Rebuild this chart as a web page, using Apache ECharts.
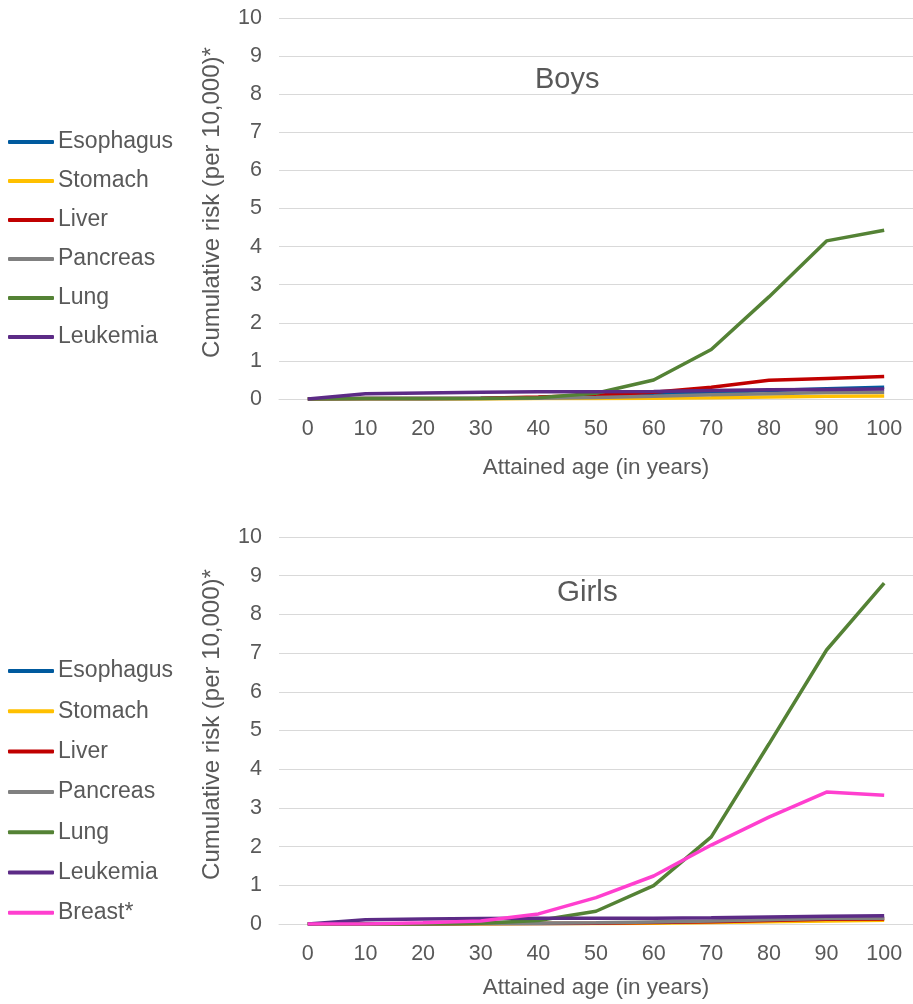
<!DOCTYPE html>
<html>
<head>
<meta charset="utf-8">
<script src="https://cdn.jsdelivr.net/npm/echarts@6/dist/echarts.min.js"></script>
<style>html,body{margin:0;padding:0;background:#fff;}#c{width:913px;height:1004px;}</style>
</head>
<body>
<div id="c"></div>
<script>
var ages = ['0','10','20','30','40','50','60','70','80','90','100'];
var yTicks = [0,1,2,3,4,5,6,7,8,9,10];

// Boys
var boysEsophagus = [0, 0.01, 0.01, 0.02, 0.04, 0.08, 0.12, 0.17, 0.22, 0.27, 0.31];
var boysStomach   = [0, 0.00, 0.00, 0.00, 0.01, 0.01, 0.02, 0.03, 0.05, 0.07, 0.08];
var boysLiver     = [0, 0.01, 0.01, 0.02, 0.05, 0.10, 0.18, 0.31, 0.49, 0.54, 0.59];
var boysPancreas  = [0, 0.00, 0.00, 0.01, 0.02, 0.04, 0.07, 0.11, 0.14, 0.17, 0.18];
var boysLung      = [0, 0.01, 0.01, 0.01, 0.03, 0.15, 0.50, 1.30, 2.68, 4.15, 4.43];
var boysLeukemia  = [0, 0.14, 0.16, 0.18, 0.19, 0.19, 0.20, 0.22, 0.24, 0.25, 0.26];

// Girls
var girlsEsophagus = [0, 0.00, 0.00, 0.01, 0.01, 0.02, 0.04, 0.06, 0.09, 0.12, 0.14];
var girlsStomach   = [0, 0.00, 0.00, 0.00, 0.01, 0.01, 0.02, 0.04, 0.06, 0.08, 0.10];
var girlsLiver     = [0, 0.00, 0.00, 0.01, 0.01, 0.02, 0.04, 0.06, 0.09, 0.12, 0.13];
var girlsPancreas  = [0, 0.00, 0.00, 0.01, 0.02, 0.03, 0.05, 0.08, 0.11, 0.14, 0.15];
var girlsLung      = [0, 0.00, 0.00, 0.02, 0.09, 0.33, 0.99, 2.25, 4.65, 7.08, 8.81];
var girlsLeukemia  = [0, 0.11, 0.13, 0.14, 0.15, 0.15, 0.15, 0.16, 0.18, 0.20, 0.21];
var girlsBreast    = [0, 0.00, 0.03, 0.08, 0.26, 0.68, 1.24, 2.04, 2.76, 3.41, 3.33];

var names = ['Esophagus','Stomach','Liver','Pancreas','Lung','Leukemia','Breast*'];
var colors = {
  'Esophagus':'#005A9E','Stomach':'#FFC000','Liver':'#C00000','Pancreas':'#808080',
  'Lung':'#548235','Leukemia':'#5C2B86','Breast*':'#FF3FCF'
};
var boysData = [boysEsophagus, boysStomach, boysLiver, boysPancreas, boysLung, boysLeukemia];
var girlsData = [girlsEsophagus, girlsStomach, girlsLiver, girlsPancreas, girlsLung, girlsLeukemia, girlsBreast];

var FONT = 'Liberation Sans, Arial, sans-serif';
var TXT = '#595959';

function xAxis(gi, gap) {
  return {
    type:'category', gridIndex:gi, data:ages, boundaryGap:true,
    name:'Attained age (in years)', nameLocation:'middle', nameGap:gap,
    nameTextStyle:{color:TXT, fontSize:22.5, fontFamily:FONT},
    axisLine:{lineStyle:{color:'#D9D9D9', width:1}},
    axisTick:{show:false},
    axisLabel:{color:TXT, fontSize:21.5, fontFamily:FONT, margin:19, interval:0}
  };
}
function yAxis(gi) {
  return {
    type:'value', gridIndex:gi, min:0, max:10, interval:1,
    name:'Cumulative risk (per 10,000)*', nameLocation:'middle', nameGap:55,
    nameTextStyle:{color:TXT, fontSize:24, fontFamily:FONT, padding:[0,0,0,12]},
    axisLine:{show:false}, axisTick:{show:false},
    splitLine:{lineStyle:{color:'#D9D9D9', width:1}},
    axisLabel:{color:TXT, fontSize:21.5, fontFamily:FONT, margin:17}
  };
}

var series = [];
boysData.forEach(function(d, i) {
  series.push({name:names[i], type:'line', xAxisIndex:0, yAxisIndex:0, data:d,
    symbol:'none', lineStyle:{width:3.5, color:colors[names[i]]}, itemStyle:{color:colors[names[i]]}});
});
girlsData.forEach(function(d, i) {
  series.push({name:names[i], type:'line', xAxisIndex:1, yAxisIndex:1, data:d,
    symbol:'none', lineStyle:{width:3.5, color:colors[names[i]]}, itemStyle:{color:colors[names[i]]}});
});

var chart = echarts.init(document.getElementById('c'), null, {renderer:'canvas'});
chart.setOption({
  animation:false,
  backgroundColor:'#fff',
  title:[
    {text:'Boys', left:530, top:60, textStyle:{color:TXT, fontSize:29, fontWeight:'normal', fontFamily:FONT}},
    {text:'Girls', left:552, top:573, textStyle:{color:TXT, fontSize:29.5, fontWeight:'normal', fontFamily:FONT}}
  ],
  legend:[
    {orient:'vertical', left:3, top:125.5, itemWidth:46, itemHeight:4, itemGap:16, icon:'roundRect',
     data:names.slice(0,6), selectedMode:false,
     textStyle:{color:TXT, fontSize:23, lineHeight:23, fontFamily:FONT, padding:[0,0,0,-1]}},
    {orient:'vertical', left:3, top:654.5, itemWidth:46, itemHeight:4, itemGap:17.3, icon:'roundRect',
     data:names, selectedMode:false,
     textStyle:{color:TXT, fontSize:23, lineHeight:23, fontFamily:FONT, padding:[0,0,0,-1]}}
  ],
  grid:[
    {left:279, right:-7, top:18, height:381},
    {left:279, right:-7, top:537, height:387}
  ],
  xAxis:[xAxis(0, 57), xAxis(1, 52)],
  yAxis:[yAxis(0), yAxis(1)],
  series:series
});
</script>
</body>
</html>
